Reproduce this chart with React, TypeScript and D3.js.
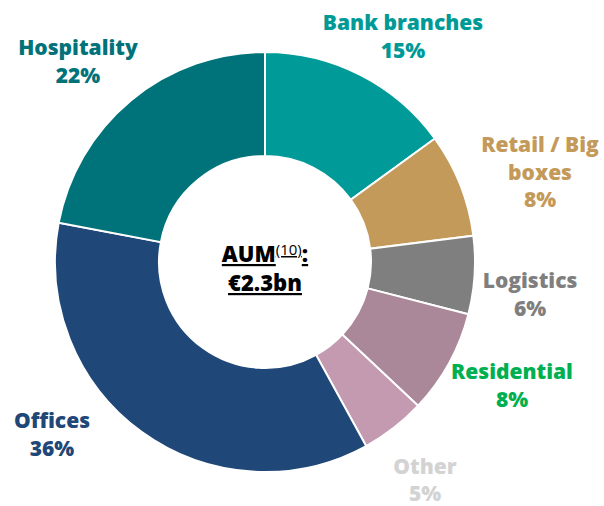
import React from "react";
import * as d3 from "d3";

const categories = ["Bank branches", "Retail / Big boxes", "Logistics", "Residential", "Other", "Offices", "Hospitality"];
const values = [15, 8, 6, 8, 5, 36, 22];
const sliceColors = ["#009B98", "#C49A5A", "#7F7F7F", "#AB8899", "#C49AB0", "#1F4778", "#00737A"];
const labelColors = ["#009A96", "#C49A5A", "#7F7F7F", "#00B050", "#D3D3D3", "#1F4778", "#00737A"];
const labelLines = [
  ["Bank branches", "15%"],
  ["Retail / Big", "boxes", "8%"],
  ["Logistics", "6%"],
  ["Residential", "8%"],
  ["Other", "5%"],
  ["Offices", "36%"],
  ["Hospitality", "22%"],
];
const labelPos: [number, number][] = [
  [403, 30],
  [540, 152],
  [530, 288],
  [512, 379],
  [425, 474],
  [52, 428],
  [78, 55],
];

export default function App() {
  const cx = 265, cy = 262, R = 210, r = 106;
  const pie = d3.pie<number>().sort(null).value((d) => d);
  const arcs = pie(values);
  const arc = d3.arc<d3.PieArcDatum<number>>().innerRadius(r).outerRadius(R);
  const font = "'Open Sans', Lato, sans-serif";
  return (
    <svg width={604} height={506} style={{ position: "absolute", left: 0, top: 0 }}>
      <rect width={604} height={506} fill="#fff" />
      <g transform={`translate(${cx},${cy})`}>
        {arcs.map((a, i) => (
          <path key={i} d={arc(a) || ""} fill={sliceColors[i]} stroke="#fff" strokeWidth={2} />
        ))}
      </g>
      {labelLines.map((lines, i) => (
        <text key={i} textAnchor="middle" fontFamily={font} fontWeight={800} fontSize={21} fill={labelColors[i]}>
          {lines.map((l, j) => (
            <tspan key={j} x={labelPos[i][0]} y={labelPos[i][1] + j * (i === 4 ? 26.5 : 27.5)}>{l}</tspan>
          ))}
        </text>
      ))}
      <text x={cx} y={262} textAnchor="middle" fontFamily={font} fontSize={22} fill="#000">
        <tspan fontWeight={800} textDecoration="underline">AUM</tspan>
        <tspan fontWeight={400} fontSize={15} dy={-7} textDecoration="underline">(10)</tspan>
        <tspan fontWeight={800} dy={7} textDecoration="underline">:</tspan>
      </text>
      <text x={cx} y={291} textAnchor="middle" fontFamily={font} fontWeight={800} fontSize={22} fill="#000" textDecoration="underline">€2.3bn</text>
    </svg>
  );
}
